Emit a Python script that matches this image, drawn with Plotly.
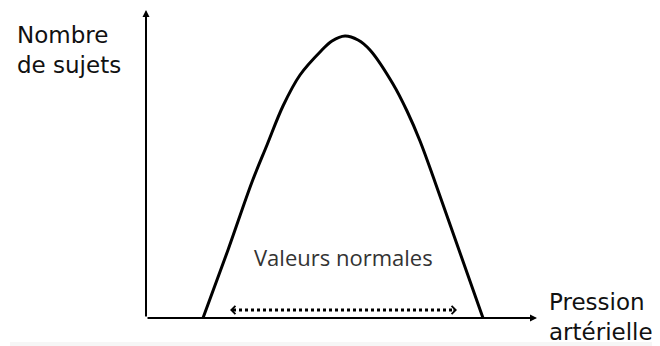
import plotly.graph_objects as go

# courbe : pression artérielle (x) / nombre de sujets (y)
pression = [57, 82, 106, 121, 137, 154, 175, 186, 199, 212, 224, 247, 261, 274, 289, 313, 337]
sujets = [0, 68, 136, 173, 212, 243, 267, 277, 282, 278, 268, 234, 207, 177, 136, 68, 0]

# plage des valeurs normales
normales_x = [84, 311]
normales_y = [8, 8]

x_max = 391
y_max = 308

fig = go.Figure()

fig.add_trace(go.Scatter(
    x=pression, y=sujets, mode="lines",
    line=dict(color="black", width=3, shape="spline", smoothing=1.0),
    hoverinfo="skip",
))

fig.add_trace(go.Scatter(
    x=[normales_x[0] + 3, normales_x[1] - 3], y=normales_y, mode="lines",
    line=dict(color="black", width=3, dash="3px,3px"),
    hoverinfo="skip",
))

annotations = []

# axes avec flèches
annotations.append(dict(x=x_max, y=0, ax=0, ay=0, axref="x", ayref="y",
                        xref="x", yref="y", text="", showarrow=True,
                        arrowhead=2, arrowsize=0.7, arrowwidth=2, arrowcolor="black"))
annotations.append(dict(x=0, y=y_max, ax=0, ay=0, axref="x", ayref="y",
                        xref="x", yref="y", text="", showarrow=True,
                        arrowhead=2, arrowsize=0.7, arrowwidth=2, arrowcolor="black"))

# pointes de la double flèche
annotations.append(dict(x=normales_x[0], y=normales_y[0], ax=normales_x[0] + 5, ay=normales_y[0],
                        axref="x", ayref="y", xref="x", yref="y", text="", showarrow=True,
                        arrowhead=4, arrowsize=0.8, arrowwidth=2, arrowcolor="black"))
annotations.append(dict(x=normales_x[1], y=normales_y[1], ax=normales_x[1] - 5, ay=normales_y[1],
                        axref="x", ayref="y", xref="x", yref="y", text="", showarrow=True,
                        arrowhead=4, arrowsize=0.8, arrowwidth=2, arrowcolor="black"))

hand = "Comic Sans MS, DejaVu Sans"
annotations.append(dict(x=-131, y=298, xref="x", yref="y", xanchor="left", yanchor="top",
                        text="Nombre<br>de sujets", showarrow=False, align="left",
                        font=dict(family=hand, size=23, color="#111")))
annotations.append(dict(x=401, y=31, xref="x", yref="y", xanchor="left", yanchor="top",
                        text="Pression<br>artérielle", showarrow=False, align="left",
                        font=dict(family=hand, size=23, color="#111")))
annotations.append(dict(x=197, y=61, xref="x", yref="y", xanchor="center", yanchor="middle",
                        text="Valeurs normales", showarrow=False,
                        font=dict(family="Open Sans", size=22, color="#333")))

# the page body has an 8px margin, so the figure is 8px smaller and the ranges start 8px in
fig.update_layout(
    width=652, height=338,
    margin=dict(l=0, r=0, t=0, b=0),
    paper_bgcolor="white", plot_bgcolor="white",
    showlegend=False,
    annotations=annotations,
    shapes=[dict(type="rect", xref="x", yref="y", x0=-136, x1=514, y0=-28, y1=-24,
                 fillcolor="#f6f6f6", line=dict(width=0), layer="below")],
    xaxis=dict(range=[-138, 514], visible=False, fixedrange=True),
    yaxis=dict(range=[-28, 310], visible=False, fixedrange=True),
)

fig.write_html("out.html")
